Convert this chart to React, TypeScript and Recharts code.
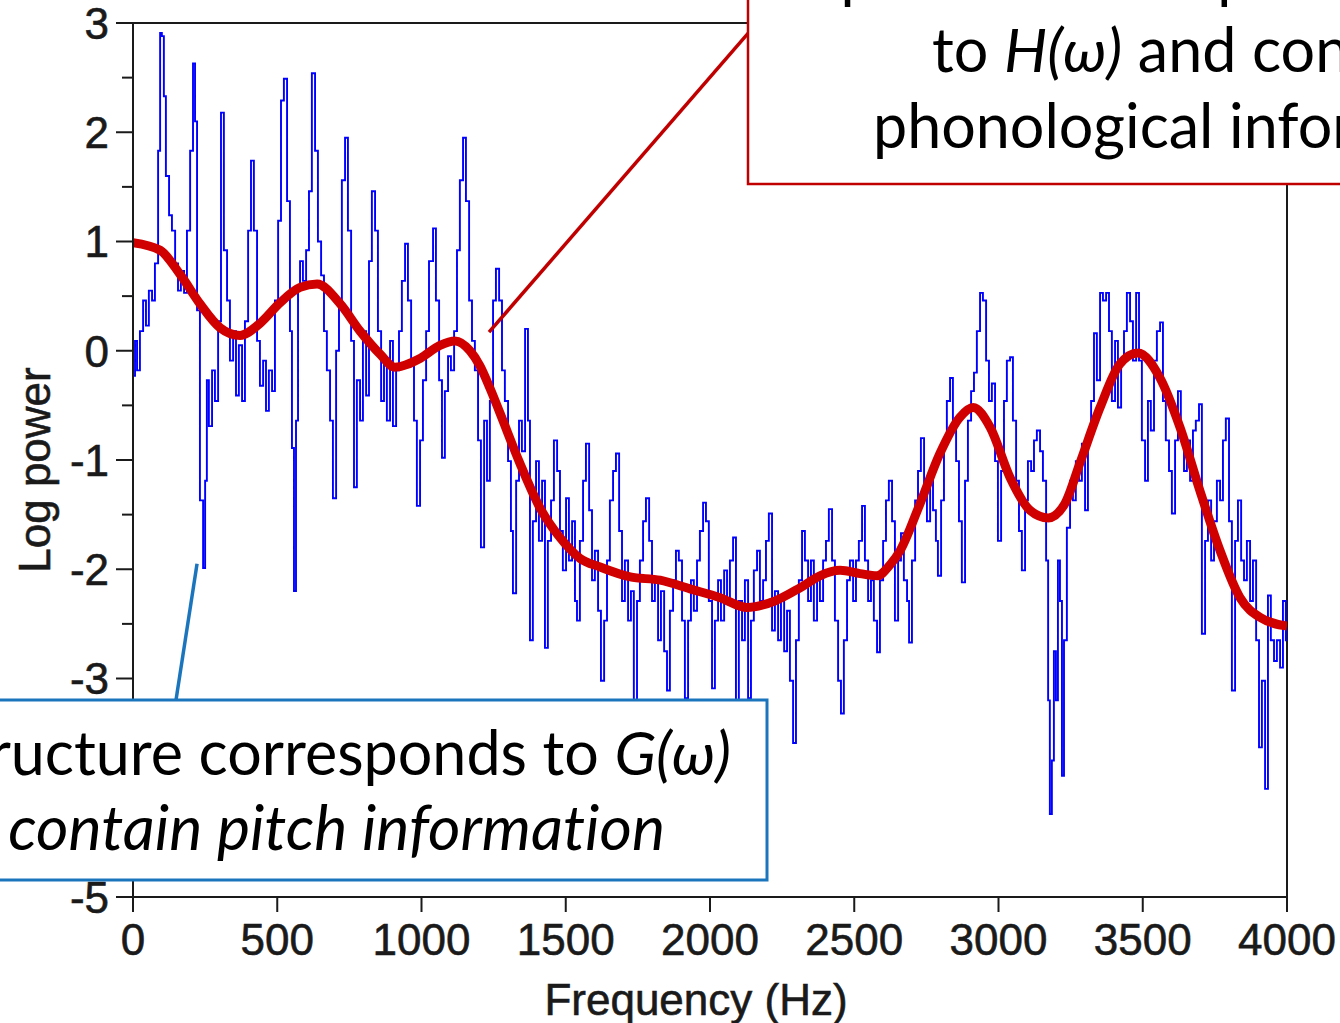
import React from 'react';
import { LineChart, Line, XAxis, YAxis, ReferenceLine } from 'recharts';

// raw log power spectrum, [frequency Hz, log power]
const spectrum: [number, number][] = [
  [0,-0.23],[7,0.09],[14,-0.18],[24,0.18],[35,0.46],[45,0.23],[55,0.55],[66,0.46],[76,0.8],[87,1.83],[94,2.91],[100,2.88],[107,2.33],[114,1.6],[125,1.24],[135,1.1],[146,0.8],[156,0.55],[166,0.73],[177,0.53],[187,1.1],[198,1.83],[208,2.63],[215,2.1],[222,0.37],[232,-1.37],[243,-1.99],[250,-1.19],[256,-0.27],[263,-0.69],[274,-0.18],[284,-0.46],[295,0.27],[305,2.18],[315,0.92],[326,0.46],[336,-0.09],[347,0.18],[357,-0.41],[367,0.05],[378,-0.46],[388,0.27],[399,1.1],[409,1.74],[419,1.1],[430,0.09],[440,-0.32],[451,-0.09],[461,-0.55],[471,-0.18],[482,-0.37],[492,0.46],[503,1.19],[513,2.29],[523,2.49],[534,1.37],[544,0.18],[551,-0.89],[558,-2.2],[565,-0.64],[572,0.55],[579,0.82],[589,0.64],[600,0.92],[610,1.46],[620,2.54],[631,1.83],[641,1.0],[652,0.69],[662,0.18],[672,-0.18],[683,-0.64],[693,-1.35],[704,0],[714,0.46],[724,1.56],[735,1.95],[745,1.1],[756,0.09],[766,-1.25],[776,-0.27],[787,-0.64],[797,0.18],[808,-0.41],[818,0.82],[828,1.46],[839,1.1],[849,0.18],[860,-0.46],[870,-0.09],[880,-0.64],[891,0.09],[901,-0.69],[912,-0.18],[922,0.18],[932,0.64],[943,0.98],[953,0.46],[964,-0.09],[974,-0.64],[984,-1.42],[995,-0.82],
  [1005,-0.27],[1016,0.18],[1026,0.82],[1040,1.12],[1050,0.46],[1061,-0.27],[1071,-0.98],[1081,-0.37],[1092,-0.05],[1102,-0.18],[1113,0.18],[1123,0.92],[1133,1.56],[1144,1.95],[1154,1.37],[1165,0.46],[1175,0.09],[1185,-0.18],[1196,-0.82],[1206,-1.8],[1217,-0.64],[1227,-1.19],[1237,-0.46],[1248,0.46],[1258,0.75],[1269,0.46],[1279,-0.18],[1289,-0.46],[1300,-1.01],[1310,-1.65],[1317,-2.22],[1328,-1.19],[1338,-0.64],[1348,-0.92],[1359,0.2],[1369,-0.64],[1376,-2.65],[1386,-1.56],[1397,-1.01],[1407,-1.74],[1418,-1.19],[1428,-2.72],[1438,-1.74],[1449,-1.37],[1459,-0.82],[1470,-1.1],[1480,-1.65],[1490,-2.01],[1501,-1.35],[1511,-1.92],[1522,-1.56],[1532,-2.29],[1539,-2.47],[1549,-1.74],[1560,-1.19],[1570,-0.85],[1581,-1.46],[1591,-2.1],[1601,-1.83],[1612,-2.38],[1622,-3.02],[1633,-2.47],[1643,-1.92],[1653,-1.37],[1664,-1.1],[1674,-0.94],[1685,-1.65],[1695,-2.29],[1705,-1.92],[1716,-2.47],[1726,-2.2],[1736,-3.2],[1747,-2.29],[1757,-1.92],[1768,-1.56],[1778,-1.35],[1789,-1.74],[1799,-2.29],[1809,-2.1],[1820,-2.65],[1830,-2.2],[1841,-2.75],[1851,-3.11],[1861,-2.38],[1872,-2.1],[1882,-1.83],[1892,-1.92],[1903,-2.47],[1913,-3.18],[1924,-2.47],[1934,-2.1],[1944,-2.38],[1955,-1.92],[1965,-1.65],[1976,-1.39],[1986,-1.56],[1996,-2.29],
  [2007,-3.09],[2017,-2.47],[2028,-2.1],[2038,-2.47],[2049,-2.01],[2059,-2.29],[2069,-1.92],[2080,-1.71],[2090,-3.2],[2100,-2.29],[2111,-2.65],[2121,-2.1],[2132,-3.18],[2142,-2.47],[2152,-2.01],[2163,-1.83],[2173,-2.29],[2184,-2.1],[2194,-1.74],[2204,-1.49],[2215,-2.56],[2225,-2.2],[2236,-2.65],[2246,-2.29],[2257,-2.75],[2267,-2.38],[2277,-3.02],[2288,-3.59],[2298,-2.65],[2308,-2.1],[2319,-1.65],[2329,-1.92],[2340,-2.29],[2350,-1.92],[2360,-2.47],[2371,-2.1],[2381,-2.29],[2392,-1.92],[2402,-1.74],[2412,-1.45],[2423,-1.92],[2433,-2.47],[2444,-3.02],[2454,-3.32],[2464,-2.65],[2475,-2.1],[2485,-1.92],[2496,-2.29],[2506,-1.92],[2516,-1.74],[2527,-1.42],[2537,-1.92],[2548,-2.29],[2558,-2.1],[2568,-2.47],[2579,-2.76],[2589,-2.1],[2600,-1.74],[2610,-1.37],[2620,-1.19],[2631,-1.56],[2641,-2.47],[2652,-1.92],[2662,-1.67],[2672,-2.1],[2683,-2.29],[2690,-2.67],[2700,-1.92],[2711,-1.37],[2721,-1.1],[2731,-0.8],[2742,-1.28],[2752,-1.56],[2763,-1.19],[2773,-1.46],[2783,-1.74],[2790,-2.06],[2801,-1.37],[2811,-0.82],[2821,-0.46],[2832,-0.25],[2842,-0.64],[2853,-1.01],[2863,-1.56],[2873,-2.12],[2884,-1.19],[2894,-0.64],[2905,-0.37],[2915,-0.2],[2925,0.18],[2936,0.53],[2946,0.46],[2957,-0.09],[2967,-0.46],[2977,-0.3],[2988,-1.01],[2998,-1.74],
  [3009,-1.1],[3019,-0.46],[3029,-0.09],[3040,-0.06],[3050,-0.64],[3061,-1.19],[3071,-1.65],[3081,-2.01],[3092,-1.37],[3102,-1.01],[3113,-1.1],[3123,-0.82],[3133,-0.73],[3144,-0.92],[3154,-1.19],[3165,-1.92],[3172,-3.2],[3178,-4.24],[3185,-3.75],[3192,-2.75],[3199,-3.2],[3206,-1.92],[3213,-2.29],[3220,-3.89],[3227,-2.65],[3237,-1.62],[3248,-1.19],[3258,-1.37],[3268,-1.01],[3279,-1.19],[3289,-0.85],[3300,-1.46],[3310,-0.82],[3321,-0.46],[3331,0.16],[3341,-0.27],[3352,0.53],[3362,0.46],[3373,0.53],[3383,0.18],[3393,-0.46],[3404,0.09],[3414,-0.52],[3425,-0.09],[3435,0.18],[3445,0.53],[3456,0.27],[3466,-0.09],[3477,0.53],[3487,-0.09],[3497,-0.82],[3508,-1.19],[3518,-0.46],[3528,-0.73],[3539,-0.09],[3549,0.18],[3560,0.26],[3570,-0.46],[3580,-0.82],[3591,-1.1],[3601,-1.49],[3612,-0.82],[3622,-0.37],[3632,-0.73],[3643,-1.1],[3653,-0.82],[3664,-1.19],[3674,-0.73],[3684,-0.64],[3695,-0.49],[3705,-2.59],[3716,-1.74],[3726,-1.37],[3737,-1.92],[3747,-1.56],[3757,-1.19],[3768,-1.37],[3778,-0.82],[3788,-0.62],[3799,-1.56],[3809,-3.11],[3820,-1.74],[3830,-1.37],[3841,-1.92],[3851,-2.1],[3861,-1.74],[3872,-2.29],[3882,-1.92],[3893,-2.65],[3903,-3.63],[3913,-3.02],[3924,-4.01],[3934,-2.24],[3944,-2.65],[3955,-2.84],[3965,-2.65],[3976,-2.9],[3986,-2.29],[3996,-2.65],[4000,-2.47],
];

// smooth spectral envelope
const envelope: [number, number][] = [
  [0,0.99],[94,0.92],[163,0.7],[232,0.43],[302,0.21],[371,0.14],[440,0.25],[510,0.44],[579,0.58],[638,0.61],[718,0.43],[787,0.18],[856,-0.03],[908,-0.15],[995,-0.07],[1064,0.05],[1116,0.09],[1168,0.0],[1203,-0.14],[1237,-0.34],[1272,-0.57],[1341,-1.03],[1411,-1.44],[1480,-1.71],[1549,-1.9],[1619,-1.98],[1723,-2.07],[1827,-2.1],[1931,-2.18],[2035,-2.26],[2128,-2.35],[2225,-2.29],[2312,-2.17],[2381,-2.06],[2451,-2.01],[2520,-2.04],[2579,-2.06],[2624,-1.96],[2659,-1.83],[2728,-1.4],[2797,-0.94],[2866,-0.61],[2912,-0.52],[2971,-0.7],[3040,-1.16],[3109,-1.46],[3172,-1.53],[3230,-1.4],[3282,-1.03],[3352,-0.52],[3421,-0.12],[3483,-0.02],[3560,-0.25],[3629,-0.7],[3698,-1.28],[3768,-1.83],[3837,-2.26],[3906,-2.44],[4000,-2.52],
];

const xTicks = [0, 500, 1000, 1500, 2000, 2500, 3000, 3500, 4000];
const yTicks = [-5, -4.5, -4, -3.5, -3, -2.5, -2, -1.5, -1, -0.5, 0, 0.5, 1, 1.5, 2, 2.5, 3];

const spectrumData = spectrum.map(([f, v]) => ({ f, v }));
const envelopeData = envelope.map(([f, v]) => ({ f, v }));

const AXIS_FONT = '"Liberation Sans", Arial, sans-serif';
const BOX_FONT = 'Lato, "Open Sans", sans-serif';
const INK = '#1a1a1a';
const noLig = { fontVariantLigatures: 'none' as const };

const YTick = (props: any) => {
  const { x, y, payload } = props;
  const major = Number.isInteger(payload.value);
  return (
    <g>
      <line x1={x - (major ? 17 : 11)} x2={x} y1={y} y2={y} stroke={INK} strokeWidth={2} />
      {major && (
        <text x={x - 24} y={y} dy="0.36em" textAnchor="end" fontFamily={AXIS_FONT} fontSize={44} fill={INK} stroke={INK} strokeWidth={0.6}>
          {payload.value}
        </text>
      )}
    </g>
  );
};

const XTick = (props: any) => {
  const { x, y, payload } = props;
  return (
    <g>
      <line x1={x} x2={x} y1={y} y2={y + 15} stroke={INK} strokeWidth={2} />
      <text x={x} y={y + 58} textAnchor="middle" fontFamily={AXIS_FONT} fontSize={44} fill={INK} stroke={INK} strokeWidth={0.6}>
        {payload.value}
      </text>
    </g>
  );
};

export default function App() {
  return (
    <div style={{ position: 'absolute', left: 0, top: 0, width: 1340, height: 1023, overflow: 'hidden', background: '#fff' }}>
      <LineChart width={1340} height={1023} margin={{ top: 23, right: 53, bottom: 0, left: 0 }}>
        <XAxis
          type="number"
          dataKey="f"
          domain={[0, 4000]}
          ticks={xTicks}
          interval={0}
          height={126}
          tickSize={0}
          tickMargin={0}
          tickLine={false}
          axisLine={{ stroke: INK, strokeWidth: 2 }}
          tick={<XTick />}
          allowDataOverflow
        />
        <YAxis
          type="number"
          domain={[-5, 3]}
          ticks={yTicks}
          interval={0}
          width={133}
          tickSize={0}
          tickMargin={0}
          tickLine={false}
          axisLine={{ stroke: INK, strokeWidth: 2 }}
          tick={<YTick />}
          allowDataOverflow
        />
        <ReferenceLine y={3} stroke={INK} strokeWidth={2} />
        <ReferenceLine x={4000} stroke={INK} strokeWidth={2} />
        <Line data={spectrumData} dataKey="v" type="stepAfter" stroke="#0000ff" strokeWidth={1.9} dot={false} isAnimationActive={false} />
        <Line data={envelopeData} dataKey="v" type="monotone" stroke="#d00000" strokeWidth={9} dot={false} isAnimationActive={false} />
        <ReferenceLine segment={[{ x: 1234, y: 0.17 }, { x: 2140, y: 2.93 }]} stroke="#c00000" strokeWidth={3.5} ifOverflow="visible" />
        <ReferenceLine segment={[{ x: 222, y: -1.95 }, { x: 146, y: -3.25 }]} stroke="#1b75bc" strokeWidth={3.5} ifOverflow="visible" />
      </LineChart>

      <svg width={1340} height={1023} style={{ position: 'absolute', left: 0, top: 0, pointerEvents: 'none' }}>
        {/* axis titles */}
        <text x={50} y={470} transform="rotate(-90 50 470)" textAnchor="middle" fontFamily={AXIS_FONT} fontSize={44} fill={INK} stroke={INK} strokeWidth={0.6}>
          Log power
        </text>
        <text x={696} y={1015} textAnchor="middle" fontFamily={AXIS_FONT} fontSize={44} fill={INK} stroke={INK} strokeWidth={0.6}>
          Frequency (Hz)
        </text>

        {/* envelope callout */}
        <rect x={748} y={-10} width={700} height={194} fill="#fff" stroke="#c00000" strokeWidth={2.5} />
        <g fontFamily={BOX_FONT} fontSize={61} fill="#000" style={noLig}>
          <text x={808} y={-4}>Spectral envelope corresponds</text>
          <text x={932} y={72}>
            to <tspan fontStyle="italic">H(ω)</tspan> and contain
          </text>
          <text x={873} y={148}>phonological information</text>
        </g>

        {/* harmonic callout */}
        <rect x={-10} y={700} width={777} height={180} fill="#fff" stroke="#1b75bc" strokeWidth={3} />
        <g fontFamily={BOX_FONT} fill="#000" style={noLig}>
          <text x={731} y={775} textAnchor="end" fontSize={61}>
            Harmonic structure corresponds to <tspan fontStyle="italic">G(ω)</tspan>
          </text>
          <text x={665} y={850} textAnchor="end" fontStyle="italic" fontSize={62.5}>
            and contain pitch information
          </text>
        </g>
      </svg>
    </div>
  );
}
